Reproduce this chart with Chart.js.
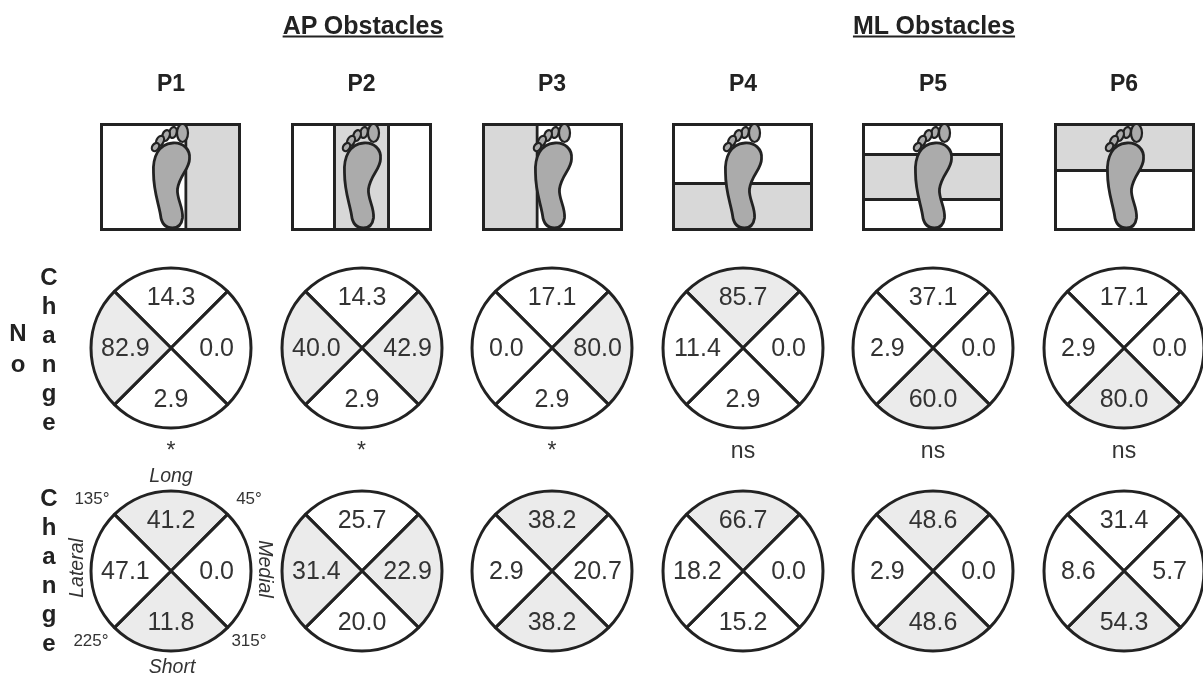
<!DOCTYPE html>
<html lang="en">
<head>
    <meta charset="UTF-8">
    <title>AP and ML Obstacles</title>
    <script src="https://cdn.jsdelivr.net/npm/chart.js"></script>
    <style>
        html, body {
            margin: 0;
            background: #fff;
        }
        #page {
            position: relative;
            width: 1203px;
            height: 674px;
            overflow: hidden;
            font-family: "Liberation Sans", Arial, sans-serif;
            color: #222;
            filter: blur(0.4px);
        }
        #page canvas {
            position: absolute;
        }
        .txt {
            position: absolute;
            white-space: nowrap;
            transform: translate(-50%, -50%);
            line-height: 1;
        }
        .head { font-size: 23px; font-weight: bold; }
        .group { font-size: 25px; text-decoration: underline; }
        .side { font-size: 24px; font-weight: bold; }
        .sig { font-size: 23px; color: #333; }
        .dir { font-size: 19.5px; font-style: italic; color: #333; }
        .deg { font-size: 17px; color: #333; }
    </style>
</head>
<body>
    <div id="page"></div>

    <script>
        // Data
        const panels = ['P1', 'P2', 'P3', 'P4', 'P5', 'P6'];
        const groups = ['AP Obstacles', 'ML Obstacles'];
        const quadrants = ['Long', 'Medial', 'Short', 'Lateral'];
        const quadrantShare = [1, 1, 1, 1];

        const noChangeLong = [14.3, 14.3, 17.1, 85.7, 37.1, 17.1];
        const noChangeMedial = [0.0, 42.9, 80.0, 0.0, 0.0, 0.0];
        const noChangeShort = [2.9, 2.9, 2.9, 2.9, 60.0, 80.0];
        const noChangeLateral = [82.9, 40.0, 0.0, 11.4, 2.9, 2.9];

        const changeLong = [41.2, 25.7, 38.2, 66.7, 48.6, 31.4];
        const changeMedial = [0.0, 22.9, 20.7, 0.0, 0.0, 5.7];
        const changeShort = [11.8, 20.0, 38.2, 15.2, 48.6, 54.3];
        const changeLateral = [47.1, 31.4, 2.9, 18.2, 2.9, 8.6];

        // Which quadrants are shaded (index into quadrants)
        const noChangeShaded = [[3], [1, 3], [1], [0], [2], [2]];
        const changeShaded = [[0, 2], [1, 3], [0, 2], [0], [0, 2], [2]];

        const significance = ['*', '*', '*', 'ns', 'ns', 'ns'];

        // Obstacle band in percent of the panel, 'v' runs across x and 'h' up y
        const bandAxis = ['v', 'v', 'v', 'h', 'h', 'h'];
        const bandStart = [60, 30, 0, 0, 28, 55];
        const bandEnd = [100, 70, 40, 45, 72, 100];

        // Layout
        const centersX = [171, 361.5, 552, 743, 933, 1124];
        const rowY = { noChange: 347.5, change: 570.5 };
        const pieRadius = 80;
        const pieBox = 170;
        const panelLeft = [100, 291, 482, 672, 862, 1054];
        const panelTop = 123;
        const panelW = 141;
        const panelH = 108;
        const inkColor = '#222';
        const page = document.getElementById('page');

        function addText(text, x, y, cls, rotate) {
            const el = document.createElement('div');
            el.className = 'txt ' + cls;
            el.textContent = text;
            el.style.left = x + 'px';
            el.style.top = y + 'px';
            if (rotate) el.style.transform = 'translate(-50%, -50%) rotate(' + rotate + 'deg)';
            page.appendChild(el);
        }

        function addCanvas(x, y, w, h) {
            const c = document.createElement('canvas');
            c.width = w;
            c.height = h;
            c.style.left = x + 'px';
            c.style.top = y + 'px';
            page.appendChild(c);
            return c;
        }

        // Writes the percentage inside each quadrant
        const valueLabels = {
            id: 'valueLabels',
            afterDatasetsDraw(chart, args, opts) {
                const ctx = chart.ctx;
                ctx.save();
                ctx.font = '25px "Liberation Sans", Arial, sans-serif';
                ctx.fillStyle = '#333';
                ctx.textAlign = 'center';
                ctx.textBaseline = 'middle';
                chart.getDatasetMeta(0).data.forEach((arc, i) => {
                    const mid = (arc.startAngle + arc.endAngle) / 2;
                    const rx = arc.outerRadius * 0.57;
                    const ry = arc.outerRadius * 0.64;
                    ctx.fillText(opts.values[i].toFixed(1), arc.x + rx * Math.cos(mid), arc.y + ry * Math.sin(mid) + 1);
                });
                ctx.restore();
            }
        };

        function drawPie(i, rowCenter, values, shaded) {
            const canvas = addCanvas(centersX[i] - pieBox / 2, rowCenter - pieBox / 2, pieBox, pieBox);
            new Chart(canvas, {
                type: 'pie',
                data: {
                    labels: quadrants,
                    datasets: [{
                        data: quadrantShare,
                        backgroundColor: quadrants.map((q, k) => shaded.includes(k) ? '#ebebeb' : '#fff'),
                        borderColor: inkColor,
                        borderWidth: 3
                    }]
                },
                options: {
                    responsive: false,
                    animation: false,
                    rotation: -45,
                    radius: pieRadius,
                    plugins: {
                        legend: { display: false },
                        tooltip: { enabled: false },
                        valueLabels: { values: values }
                    }
                },
                plugins: [valueLabels]
            });
        }

        // Frame and foot on top of the obstacle band
        const footOverlay = {
            id: 'footOverlay',
            afterDraw(chart) {
                const ctx = chart.ctx;
                const w = chart.width;
                const h = chart.height;
                ctx.save();
                ctx.strokeStyle = inkColor;
                ctx.lineWidth = 3;
                ctx.strokeRect(1.5, 1.5, w - 3, h - 3);

                ctx.translate(w / 2, 0);
                ctx.fillStyle = '#ababab';
                ctx.lineWidth = 2.2;
                const toes = [[12, 10, 5.5, 9, 0], [2.5, 9.5, 3.6, 5.5, 0.25], [-4.5, 12.5, 3.6, 5.5, 0.35], [-10.5, 18, 3.6, 5.5, 0.45], [-15, 24, 3.2, 4.5, 0.6]];
                toes.forEach(t => {
                    ctx.beginPath();
                    ctx.ellipse(t[0], t[1], t[2], t[3], t[4], 0, Math.PI * 2);
                    ctx.fill();
                    ctx.stroke();
                });

                ctx.lineWidth = 2.8;
                ctx.beginPath();
                ctx.moveTo(2, 20);
                ctx.bezierCurveTo(12, 19, 20, 26, 19, 36);
                ctx.bezierCurveTo(19, 46, 9, 52, 7, 66);
                ctx.bezierCurveTo(6, 76, 13, 84, 12, 95);
                ctx.bezierCurveTo(11, 102, 7, 105, 2, 105);
                ctx.bezierCurveTo(-5, 105, -9, 101, -10, 92);
                ctx.bezierCurveTo(-12, 80, -17, 68, -17, 50);
                ctx.bezierCurveTo(-18, 34, -12, 21, 2, 20);
                ctx.closePath();
                ctx.fill();
                ctx.stroke();
                ctx.restore();
            }
        };

        function drawPanel(i) {
            const canvas = addCanvas(panelLeft[i], panelTop, panelW, panelH);
            const vertical = bandAxis[i] === 'v';
            const percentScale = { display: false, min: 0, max: 100 };
            const catScale = { display: false };
            new Chart(canvas, {
                type: 'bar',
                data: {
                    labels: [panels[i]],
                    datasets: [{
                        data: [[bandStart[i], bandEnd[i]]],
                        backgroundColor: '#d8d8d8',
                        borderColor: inkColor,
                        borderSkipped: false,
                        borderWidth: vertical ? { left: 3, right: 3, top: 0, bottom: 0 } : { left: 0, right: 0, top: 3, bottom: 3 },
                        barPercentage: 1,
                        categoryPercentage: 1
                    }]
                },
                options: {
                    responsive: false,
                    animation: false,
                    indexAxis: vertical ? 'y' : 'x',
                    scales: vertical ? { x: percentScale, y: catScale } : { x: catScale, y: percentScale },
                    plugins: {
                        legend: { display: false },
                        tooltip: { enabled: false }
                    }
                },
                plugins: [footOverlay]
            });
        }

        // Headings
        addText(groups[0], 363, 25, 'head group');
        addText(groups[1], 934, 25, 'head group');
        panels.forEach((p, i) => {
            addText(p, centersX[i], 83, 'head');
            drawPanel(i);
            drawPie(i, rowY.noChange, [noChangeLong[i], noChangeMedial[i], noChangeShort[i], noChangeLateral[i]], noChangeShaded[i]);
            drawPie(i, rowY.change, [changeLong[i], changeMedial[i], changeShort[i], changeLateral[i]], changeShaded[i]);
            addText(significance[i], centersX[i], 450, 'sig');
        });

        // Row labels, stacked one letter at a time
        addText('N', 18, 333, 'side');
        addText('o', 18, 364, 'side');
        'Change'.split('').forEach((ch, k) => addText(ch, 49, 277 + k * 29, 'side'));
        'Change'.split('').forEach((ch, k) => addText(ch, 49, 498 + k * 29, 'side'));

        // Key around the first lower circle
        addText(quadrants[0], 171, 476, 'dir');
        addText(quadrants[2], 172, 667, 'dir');
        addText(quadrants[3], 77, 568, 'dir', -90);
        addText(quadrants[1], 265, 569, 'dir', 90);
        addText('135°', 92, 498, 'deg');
        addText('45°', 249, 498, 'deg');
        addText('225°', 91, 640, 'deg');
        addText('315°', 249, 640, 'deg');
    </script>
</body>
</html>
